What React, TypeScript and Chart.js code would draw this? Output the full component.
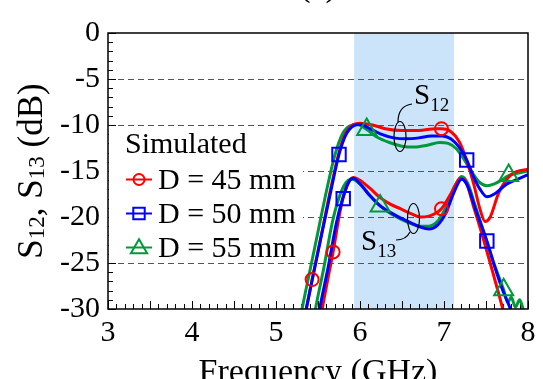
import React, { useEffect, useRef } from "react";
import { Chart, registerables } from "chart.js";

Chart.register(...registerables);

const FONT = '"Liberation Serif", "Times New Roman", serif';

// ---- axis / annotation data ----
const xTicks = [3, 4, 5, 6, 7, 8];
const yTicks = [0, -5, -10, -15, -20, -25, -30];
const seriesLabels = ["D = 45 mm", "D = 50 mm", "D = 55 mm"];
const legendTitle = "Simulated";
const passband = [5.93, 7.12];

// ---- S12 curves ----
const s12F45 = [5.28, 5.36, 5.43, 5.55, 5.65, 5.75, 5.83, 5.92, 6.0, 6.15, 6.3, 6.5, 6.7, 6.9, 6.97, 7.08, 7.18, 7.26, 7.35, 7.43, 7.49, 7.55, 7.65, 7.8, 8.0];
const s12Db45 = [-34, -30, -26.8, -21.5, -17.0, -13.0, -10.9, -9.95, -9.8, -10.0, -10.4, -10.6, -10.6, -10.4, -10.4, -10.7, -11.8, -13.6, -16.3, -19.2, -20.5, -20.0, -17.4, -15.4, -14.8];

const s12F50 = [5.27, 5.36, 5.45, 5.55, 5.65, 5.75, 5.83, 5.92, 6.0, 6.1, 6.25, 6.4, 6.55, 6.7, 6.85, 6.98, 7.08, 7.18, 7.27, 7.35, 7.43, 7.51, 7.6, 7.75, 7.9, 8.0];
const s12Db50 = [-34, -30, -26, -21.6, -17.3, -13.2, -11.1, -10.1, -9.95, -10.3, -11.0, -11.4, -11.5, -11.4, -11.2, -11.2, -11.5, -12.4, -13.8, -15.6, -17.0, -17.8, -17.5, -16.4, -15.8, -15.4];

const s12F55 = [5.23, 5.31, 5.4, 5.5, 5.6, 5.7, 5.79, 5.88, 5.97, 6.08, 6.2, 6.35, 6.5, 6.65, 6.8, 6.95, 7.05, 7.15, 7.25, 7.33, 7.42, 7.51, 7.6, 7.7, 7.77, 7.9, 8.0];
const s12Db55 = [-34, -30, -26, -21.6, -17.2, -13.3, -11.0, -10.1, -9.95, -10.5, -11.3, -11.9, -12.3, -12.4, -12.2, -11.9, -12.0, -12.6, -13.9, -15.1, -16.2, -16.6, -16.4, -15.9, -15.5, -15.2, -15.0];

// ---- S13 curves ----
const s13F45 = [5.48, 5.55, 5.62, 5.68, 5.75, 5.8, 5.86, 5.92, 6.0, 6.12, 6.24, 6.36, 6.48, 6.6, 6.72, 6.82, 6.9, 6.97, 7.08, 7.2, 7.27, 7.35, 7.45, 7.55, 7.65, 7.7, 7.75];
const s13Db45 = [-34, -30, -26.6, -23.8, -20.0, -17.9, -16.3, -15.7, -16.0, -16.9, -17.9, -18.6, -19.1, -19.6, -20.0, -19.9, -19.6, -19.1, -17.5, -15.8, -16.4, -18.8, -21.8, -25.0, -28.3, -30, -31.6];

const s13F50 = [5.45, 5.52, 5.62, 5.72, 5.79, 5.86, 5.92, 6.0, 6.12, 6.24, 6.36, 6.48, 6.6, 6.72, 6.82, 6.92, 7.02, 7.12, 7.21, 7.28, 7.38, 7.51, 7.6, 7.7, 7.79, 7.85];
const s13Db50 = [-34, -30, -25.5, -20.6, -18.1, -16.3, -15.8, -16.4, -17.7, -18.8, -19.5, -20.1, -20.6, -21.1, -21.3, -20.9, -19.6, -17.3, -15.9, -16.6, -19.3, -22.6, -25.3, -28.0, -30, -32];

const s13F55 = [5.4, 5.47, 5.57, 5.67, 5.75, 5.83, 5.9, 6.0, 6.12, 6.24, 6.36, 6.48, 6.6, 6.72, 6.82, 6.92, 7.02, 7.12, 7.21, 7.28, 7.38, 7.5, 7.6, 7.71, 7.76, 7.8, 7.85, 7.9, 7.95, 8.0];
const s13Db55 = [-34, -30, -25.5, -20.6, -17.9, -16.3, -15.9, -16.4, -17.7, -18.8, -19.6, -20.2, -20.7, -21.0, -21.0, -20.5, -19.0, -16.8, -15.6, -16.3, -19.0, -22.4, -25.2, -27.9, -29.3, -28.7, -29.8, -29.0, -30.2, -31];

// ---- marker positions ----
const mkF45 = [5.43, 6.97, 5.68, 6.97];
const mkDb45 = [-26.8, -10.4, -23.8, -19.1];
const mkF50 = [5.75, 7.27, 5.8, 7.51];
const mkDb50 = [-13.2, -13.8, -18.0, -22.6];
const mkF55 = [6.08, 7.77, 6.24, 7.71];
const mkDb55 = [-10.5, -15.5, -18.8, -27.9];

const RED = "#ff0000";
const BLUE = "#0000ff";
const GREEN = "#00993a";
const colors = [RED, BLUE, GREEN];
const styles = ["circle", "rect", "triangle"];
const radii = [6.5, 9.5, 11];

const pts = (f: number[], d: number[]) => f.map((x, i) => ({ x, y: d[i] }));

function drawMarker(ctx: CanvasRenderingContext2D, style: string, x: number, y: number, r: number, color: string) {
  ctx.save();
  ctx.strokeStyle = color;
  ctx.lineWidth = 2;
  ctx.beginPath();
  if (style === "circle") {
    ctx.arc(x, y, r, 0, Math.PI * 2);
  } else if (style === "rect") {
    const s = Math.SQRT1_2 * r;
    ctx.rect(x - s, y - s, 2 * s, 2 * s);
  } else {
    for (let k = 0; k < 3; k++) {
      const a = (k * 2 * Math.PI) / 3;
      const px = x + Math.sin(a) * r;
      const py = y - Math.cos(a) * r;
      if (k === 0) ctx.moveTo(px, py);
      else ctx.lineTo(px, py);
    }
    ctx.closePath();
  }
  ctx.stroke();
  ctx.restore();
}

function drawSubText(ctx: CanvasRenderingContext2D, parts: [string, boolean][], x: number, y: number, big: number, small: number, drop: number, align: "left" | "center") {
  const fBig = `${big}px ${FONT}`;
  const fSmall = `${small}px ${FONT}`;
  let total = 0;
  for (const [t, sub] of parts) {
    ctx.font = sub ? fSmall : fBig;
    total += ctx.measureText(t).width;
  }
  let cx = align === "center" ? x - total / 2 : x;
  ctx.textAlign = "left";
  ctx.textBaseline = "alphabetic";
  for (const [t, sub] of parts) {
    ctx.font = sub ? fSmall : fBig;
    ctx.fillText(t, cx, y + (sub ? drop : 0));
    cx += ctx.measureText(t).width;
  }
}

const decorPlugin = {
  id: "decor",
  beforeDatasetsDraw(chart: any) {
    const { ctx, chartArea: a, scales } = chart;
    const xs = scales.x, ys = scales.y;
    ctx.save();
    // pass band
    const x0 = xs.getPixelForValue(passband[0]);
    const x1 = xs.getPixelForValue(passband[1]);
    ctx.fillStyle = "rgb(204,228,250)";
    ctx.fillRect(x0, a.top, x1 - x0, a.bottom - a.top);
    // dashed grid
    ctx.strokeStyle = "#555";
    ctx.lineWidth = 1;
    ctx.setLineDash([6, 4]);
    for (const v of yTicks) {
      if (v === 0 || v === -30) continue;
      const y = Math.round(ys.getPixelForValue(v)) + 0.5;
      ctx.beginPath();
      ctx.moveTo(a.left, y);
      ctx.lineTo(a.right, y);
      ctx.stroke();
    }
    ctx.setLineDash([]);
    // inner ticks
    ctx.strokeStyle = "#000";
    ctx.lineWidth = 1;
    for (let i = 0; i <= 50; i++) {
      const v = 3 + i * 0.1;
      const x = Math.round(xs.getPixelForValue(v)) + 0.5;
      const len = i % 5 === 0 ? 8 : 5;
      ctx.beginPath();
      ctx.moveTo(x, a.bottom);
      ctx.lineTo(x, a.bottom - len);
      ctx.stroke();
    }
    for (let i = 0; i <= 30; i++) {
      const y = Math.round(ys.getPixelForValue(-i)) + 0.5;
      const len = i % 5 === 0 ? 8 : 5;
      ctx.beginPath();
      ctx.moveTo(a.left, y);
      ctx.lineTo(a.left + len, y);
      ctx.stroke();
    }
    ctx.restore();
  },
  afterDraw(chart: any) {
    const { ctx, chartArea: a } = chart;
    ctx.save();
    // frame
    ctx.strokeStyle = "#000";
    ctx.lineWidth = 1.5;
    ctx.strokeRect(a.left, a.top, a.right - a.left, a.bottom - a.top);

    // legend
    ctx.fillStyle = "#fff";
    ctx.fillRect(a.left + 1, 130, 194, 128);
    ctx.fillStyle = "#000";
    ctx.font = `30px ${FONT}`;
    ctx.textAlign = "left";
    ctx.textBaseline = "alphabetic";
    ctx.fillText(legendTitle, 125, 153);
    const bases = [188.5, 222.5, 256.5];
    seriesLabels.forEach((lab, i) => {
      const yb = bases[i];
      const ym = yb - 9;
      ctx.strokeStyle = colors[i];
      ctx.lineWidth = 2;
      ctx.beginPath();
      ctx.moveTo(126, ym);
      ctx.lineTo(152, ym);
      ctx.stroke();
      drawMarker(ctx, styles[i], 139, ym + (i === 2 ? 1 : 0), radii[i] * 0.85, colors[i]);
      ctx.fillStyle = "#000";
      ctx.font = `30px ${FONT}`;
      ctx.fillText(lab, 158, yb);
    });

    // annotations
    ctx.fillStyle = "#000";
    drawSubText(ctx, [["S", false], ["12", true]], 414, 104, 29, 19, 6.5, "left");
    drawSubText(ctx, [["S", false], ["13", true]], 361, 249.5, 29, 19, 7, "left");
    ctx.strokeStyle = "#000";
    ctx.lineWidth = 1.2;
    ctx.beginPath();
    ctx.moveTo(412, 104);
    ctx.quadraticCurveTo(398, 106, 398, 122);
    ctx.stroke();
    ctx.beginPath();
    ctx.ellipse(400, 136.5, 6, 15, 0, 0, Math.PI * 2);
    ctx.stroke();
    ctx.beginPath();
    ctx.ellipse(413.5, 218.5, 6, 15, 0, 0, Math.PI * 2);
    ctx.stroke();
    ctx.beginPath();
    ctx.moveTo(410, 232);
    ctx.quadraticCurveTo(406, 240, 396, 240);
    ctx.stroke();

    // y-axis title (rotated, with subscripts)
    ctx.save();
    ctx.translate(42, (a.top + a.bottom) / 2);
    ctx.rotate(-Math.PI / 2);
    drawSubText(ctx, [["S", false], ["12", true], [", S", false], ["13", true], [" (dB)", false]], 0, 0, 35, 23, 2, "center");
    ctx.restore();

    // x-axis title
    ctx.font = `34px ${FONT}`;
    ctx.textAlign = "center";
    ctx.textBaseline = "alphabetic";
    ctx.fillText("Frequency (GHz)", (a.left + a.right) / 2, 381.5);
    // panel label (cut at top)
    ctx.fillText("(c)", (a.left + a.right) / 2, -4);
    ctx.restore();
  },
};

export default function App() {
  const ref = useRef<HTMLCanvasElement | null>(null);
  useEffect(() => {
    if (!ref.current) return;
    const lineDs = (f: number[], d: number[], color: string, order: number) => ({
      data: pts(f, d),
      showLine: true,
      borderColor: color,
      backgroundColor: color,
      borderWidth: 3,
      pointRadius: 0,
      cubicInterpolationMode: "monotone" as const,
      order,
    });
    const markDs = (f: number[], d: number[], color: string, style: string, r: number) => ({
      data: pts(f, d),
      showLine: false,
      borderColor: color,
      backgroundColor: "transparent",
      pointStyle: style,
      pointRadius: r,
      pointBorderWidth: 2,
      order: 0,
    });
    const chart = new Chart(ref.current, {
      type: "scatter",
      data: {
        datasets: [
          lineDs(s12F55, s12Db55, GREEN, 3),
          lineDs(s13F55, s13Db55, GREEN, 3),
          lineDs(s12F45, s12Db45, RED, 2),
          lineDs(s13F45, s13Db45, RED, 2),
          lineDs(s12F50, s12Db50, BLUE, 1),
          lineDs(s13F50, s13Db50, BLUE, 1),
          markDs(mkF45, mkDb45, RED, styles[0], radii[0]),
          markDs(mkF50, mkDb50, BLUE, styles[1], radii[1]),
          markDs(mkF55, mkDb55, GREEN, styles[2], radii[2]),
        ] as any,
      },
      options: {
        responsive: false,
        animation: false,
        devicePixelRatio: 1,
        events: [],
        layout: { padding: { top: 33, right: 15, left: 0, bottom: 0 } },
        plugins: { legend: { display: false }, tooltip: { enabled: false }, title: { display: false } },
        scales: {
          x: {
            type: "linear",
            min: 3,
            max: 8,
            afterBuildTicks: (s: any) => { s.ticks = xTicks.map((v) => ({ value: v })); },
            afterFit: (s: any) => { s.height = 70; },
            grid: { display: false, drawTicks: false },
            border: { display: false },
            ticks: { color: "#000", font: { family: FONT, size: 30 }, padding: 6, maxRotation: 0, autoSkip: false },
          },
          y: {
            type: "linear",
            min: -30,
            max: 0,
            afterBuildTicks: (s: any) => { s.ticks = yTicks.map((v) => ({ value: v })); },
            afterFit: (s: any) => { s.width = 108; },
            grid: { display: false, drawTicks: false },
            border: { display: false },
            ticks: { color: "#000", font: { family: FONT, size: 30 }, padding: 8, autoSkip: false },
          },
        },
      } as any,
      plugins: [decorPlugin],
    });
    return () => chart.destroy();
  }, []);
  return (
    <div style={{ position: "absolute", left: 0, top: 0, width: 543, height: 379, background: "#fff" }}>
      <canvas ref={ref} width={543} height={379} style={{ width: 543, height: 379, display: "block" }} />
    </div>
  );
}
